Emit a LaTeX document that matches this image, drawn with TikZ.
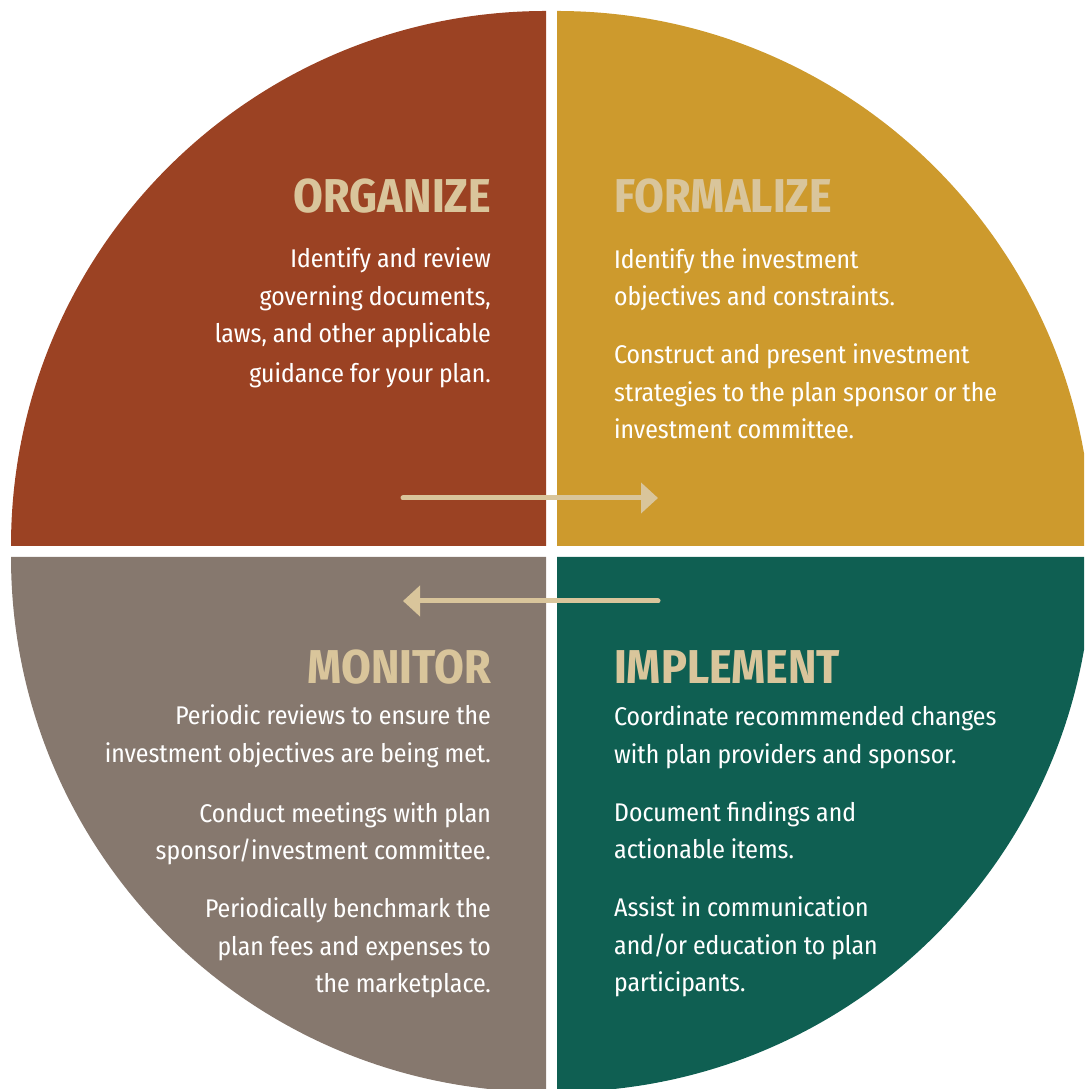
\documentclass[tikz,border=0pt]{standalone}
\usepackage{fontspec}
\IfFontExistsTF{Fira Sans Condensed}{\setmainfont{Fira Sans Condensed}}{\setmainfont{Fira Sans}[FakeStretch=0.82]}
\usetikzlibrary{arrows.meta}
\definecolor{rust}{HTML}{9B4223}
\definecolor{gold}{HTML}{CD9A2D}
\definecolor{taupe}{HTML}{86786E}
\definecolor{pine}{HTML}{0F5F52}
\definecolor{sand}{HTML}{D9C59B}
\tikzset{
  heading/.style={text=sand, inner sep=0pt, font=\fontsize{47.5}{48}\selectfont\bfseries},
  blurb/.style={text=white, inner sep=0pt, font=\fontsize{25.6}{37.5}\selectfont},
  flow/.style={sand, line width=5pt, line cap=round, -{Triangle[width=30pt,length=17pt]}}
}
\begin{document}
\begin{tikzpicture}[x=1pt,y=1pt]
  \useasboundingbox (0,0) rectangle (1084,1089);
  \clip (0,0) rectangle (1084,1089);
  % the four quarters
  \fill[rust] (546,543) -- ++(-535,0) arc[start angle=180,end angle=90,radius=535pt] -- cycle;
  \fill[gold] (557,543) -- ++(0,535) arc[start angle=90,end angle=0,radius=535pt] -- cycle;
  \fill[taupe] (546,532) -- ++(-535,0) arc[start angle=180,end angle=270,radius=535pt] -- cycle;
  \fill[pine] (557,532) -- ++(535,0) arc[start angle=0,end angle=-90,radius=535pt] -- cycle;
  % headings
  \node[heading, anchor=base east] (organize) at (491,876) {ORGANIZE};
  \node[heading, anchor=base west] (formalize) at (614,876) {FORMALIZE};
  \node[heading, anchor=base east] (monitor) at (491,405) {MONITOR};
  \node[heading, anchor=base west] (implement) at (614,405) {IMPLEMENT};
  % texts (base = last line)
  \node[blurb, anchor=base east, align=right] (organizeText) at (491,706)
    {Identify and review\\governing documents,\\laws, and other applicable\\[2.5pt]guidance for your plan.};
  \node[blurb, anchor=base west, align=left] (formalizeText) at (614,650)
    {Identify the investment\\objectives and constraints.\\[20.5pt]Construct and present investment\\strategies to the plan sponsor or the\\investment committee.};
  \node[blurb, anchor=base east, align=right] (monitorText) at (491,96)
    {Periodic reviews to ensure the\\investment objectives are being met.\\[22.5pt]Conduct meetings with plan\\sponsor/investment committee.\\[20.5pt]Periodically benchmark the\\plan fees and expenses to\\the marketplace.};
  \node[blurb, anchor=base west, align=left] (implementText) at (614,97)
    {Coordinate recommmended changes\\with plan providers and sponsor.\\[20.5pt]Document findings and\\actionable items.\\[20.5pt]Assist in communication\\and/or education to plan\\participants.};
  % arrows
  \coordinate (organizeTail) at (403,591);
  \coordinate (formalizeHead) at (658,591);
  \coordinate (implementTail) at (658,488);
  \coordinate (monitorHead) at (403,488);
  \draw[flow] (organizeTail) -- (formalizeHead);
  \draw[flow] (implementTail) -- (monitorHead);
\end{tikzpicture}
\end{document}
